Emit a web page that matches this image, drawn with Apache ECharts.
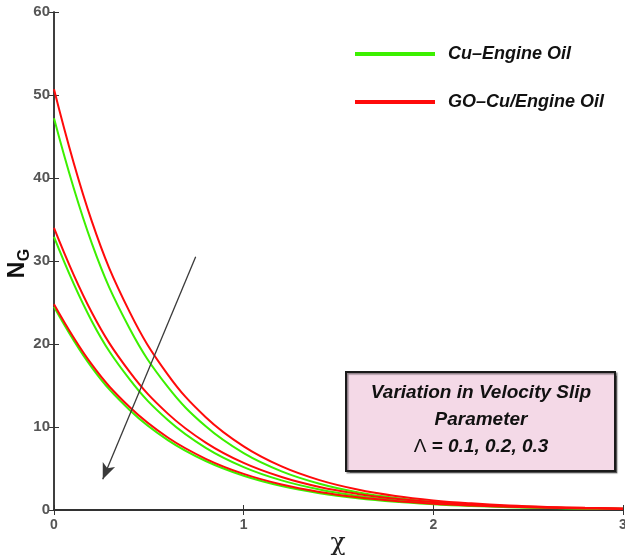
<!DOCTYPE html>
<html>
<head>
<meta charset="utf-8">
<script src="https://cdn.jsdelivr.net/npm/echarts@6/dist/echarts.min.js"></script>
<style>
  html, body { margin: 0; padding: 0; background: #fff; }
  #chart { width: 625px; height: 559px; }
</style>
</head>
<body>
<div id="chart"></div>
<script>
// Entropy generation N_G against χ for three slip values (Λ = 0.1, 0.2, 0.3)
const chi = [0, 0.2, 0.4, 0.6, 0.8, 1.0, 1.2, 1.4, 1.6, 1.8, 2.0, 2.2, 2.4, 2.6, 2.8, 3.0];

// Cu–Engine Oil
const cuL1 = [47.2, 32.09, 21.81, 14.83, 10.08, 6.85, 4.66, 3.17, 2.15, 1.46, 1.00, 0.67, 0.46, 0.31, 0.21, 0.15];
const cuL2 = [32.9, 22.72, 15.70, 10.84, 7.49, 5.17, 3.57, 2.47, 1.70, 1.18, 0.81, 0.56, 0.39, 0.27, 0.18, 0.13];
const cuL3 = [24.5, 17.16, 12.02, 8.42, 5.90, 4.13, 2.89, 2.03, 1.42, 0.99, 0.70, 0.49, 0.34, 0.24, 0.17, 0.12];

// GO–Cu/Engine Oil
const goL1 = [50.7, 34.74, 23.81, 16.32, 11.18, 7.67, 5.25, 3.60, 2.47, 1.69, 1.16, 0.80, 0.54, 0.37, 0.26, 0.18];
const goL2 = [34.0, 23.77, 16.61, 11.61, 8.12, 5.67, 3.97, 2.77, 1.94, 1.35, 0.95, 0.66, 0.46, 0.32, 0.23, 0.16];
const goL3 = [24.8, 17.51, 12.37, 8.73, 6.17, 4.35, 3.07, 2.17, 1.53, 1.08, 0.76, 0.54, 0.38, 0.27, 0.19, 0.13];

const seriesNames = ['Cu\u2013Engine Oil', 'GO\u2013Cu/Engine Oil'];
const xTicks = [0, 1, 2, 3];
const yTicks = [0, 10, 20, 30, 40, 50, 60];

// Direction arrow: tail and head in data coordinates
const arrowFrom = [0.747, 30.5];
const arrowTo = [0.257, 3.7];

const GREEN = '#3cf000';
const RED = '#ff0a0a';
const AXIS = '#333';
const SANS = 'Liberation Sans, Arial, sans-serif';

function pairs(ys) { return chi.map((x, i) => [x, ys[i]]); }

function curve(name, ys, color, z) {
  return {
    name: name, type: 'line', data: pairs(ys), smooth: 0.4,
    showSymbol: false, symbol: 'none', z: z,
    lineStyle: { color: color, width: 2 }, itemStyle: { color: color }
  };
}

const chart = echarts.init(document.getElementById('chart'), null, { renderer: 'canvas' });

const series = [
  curve(seriesNames[0], cuL1, GREEN, 2),
  curve(seriesNames[0], cuL2, GREEN, 2),
  curve(seriesNames[0], cuL3, GREEN, 2),
  curve(seriesNames[1], goL1, RED, 3),
  curve(seriesNames[1], goL2, RED, 3),
  curve(seriesNames[1], goL3, RED, 3),
  {
    name: 'arrow', type: 'line', data: [], silent: true, z: 4,
    markLine: {
      silent: true, animation: false,
      label: { show: false },
      emphasis: { disabled: true },
      lineStyle: { color: '#3a3a3a', width: 1.3, type: 'solid' },
      itemStyle: { color: '#222' },
      data: [[
        { coord: arrowFrom, symbol: 'none', symbolSize: 0 },
        { coord: arrowTo, symbol: 'arrow', symbolSize: [10, 16] }
      ]]
    }
  }
];

chart.setOption({
  animation: false,
  backgroundColor: '#fff',
  grid: { left: 54, right: 2, top: 12, bottom: 49, containLabel: false, outerBoundsMode: 'none' },
  legend: {
    data: seriesNames,
    orient: 'vertical',
    left: 350, top: 39,
    itemWidth: 80, itemHeight: 4, itemGap: 28,
    icon: 'rect',
    textStyle: { fontFamily: SANS, fontStyle: 'italic', fontWeight: 'bold', fontSize: 18, color: '#111', lineHeight: 20, padding: [0, 0, 0, 8] }
  },
  xAxis: [
    {
      type: 'value', min: 0, max: 3, interval: 1,
      axisLine: { show: true, lineStyle: { color: AXIS, width: 2 } },
      axisTick: { show: true, inside: true, length: 5, lineStyle: { color: AXIS } },
      axisLabel: { margin: 8, color: '#555', fontFamily: SANS, fontWeight: 'bold', fontSize: 14 },
      splitLine: { show: false }
    },
    {
      type: 'value', min: 0, max: 3, interval: 1, position: 'top',
      axisLine: { show: true, lineStyle: { color: AXIS, width: 1.5 } },
      axisTick: { show: true, inside: true, length: 5, lineStyle: { color: AXIS } },
      axisLabel: { show: false }, splitLine: { show: false }
    }
  ],
  yAxis: [
    {
      type: 'value', min: 0, max: 60, interval: 10,
      axisLine: { show: true, lineStyle: { color: AXIS, width: 1.5 } },
      axisTick: { show: true, inside: true, length: 5, lineStyle: { color: AXIS } },
      axisLabel: { margin: 4, fontSize: 15, color: '#555', fontFamily: SANS, fontWeight: 'bold' },
      splitLine: { show: false }
    },
    {
      type: 'value', min: 0, max: 60, interval: 10, position: 'right',
      axisLine: { show: true, lineStyle: { color: AXIS, width: 1.5 } },
      axisTick: { show: true, inside: true, length: 5, lineStyle: { color: AXIS } },
      axisLabel: { show: false }, splitLine: { show: false }
    }
  ],
  series: series,
  graphic: [
    // x-axis title
    {
      type: 'text', x: 338, y: 543,
      style: { text: 'χ', font: '25px DejaVu Serif, serif', fill: '#222', align: 'center', verticalAlign: 'middle' }
    },
    // y-axis title N_G, rotated to read bottom-to-top
    {
      type: 'group', x: 18, y: 270, rotation: Math.PI / 2,
      children: [
        { type: 'text', x: 0, y: 0, style: { text: 'N', font: 'bold 23px ' + SANS, fill: '#111', align: 'center', verticalAlign: 'middle' } },
        { type: 'text', x: 15, y: 7, style: { text: 'G', font: 'bold 16px ' + SANS, fill: '#111', align: 'center', verticalAlign: 'middle' } }
      ]
    },
    // annotation box
    {
      type: 'rect', shape: { x: 346, y: 372, width: 269, height: 99 },
      style: { fill: '#f4d9e7', stroke: '#1a1a1a', lineWidth: 2, shadowColor: 'rgba(0,0,0,0.45)', shadowOffsetX: 1.5, shadowOffsetY: 1.5, shadowBlur: 1 },
      z: 10
    },
    {
      type: 'text', x: 481, y: 393, z: 11,
      style: { text: 'Variation in Velocity Slip', font: 'italic bold 19px ' + SANS, fill: '#111', align: 'center', verticalAlign: 'middle' }
    },
    {
      type: 'text', x: 481, y: 420, z: 11,
      style: { text: 'Parameter', font: 'italic bold 19px ' + SANS, fill: '#111', align: 'center', verticalAlign: 'middle' }
    },
    {
      type: 'text', x: 481, y: 447, z: 11,
      style: {
        text: '{l|Λ}{v| = 0.1, 0.2, 0.3}',
        align: 'center', verticalAlign: 'middle',
        rich: {
          l: { font: '19px ' + SANS, fill: '#111' },
          v: { font: 'italic bold 19px ' + SANS, fill: '#111' }
        }
      }
    }
  ]
});
</script>
</body>
</html>
